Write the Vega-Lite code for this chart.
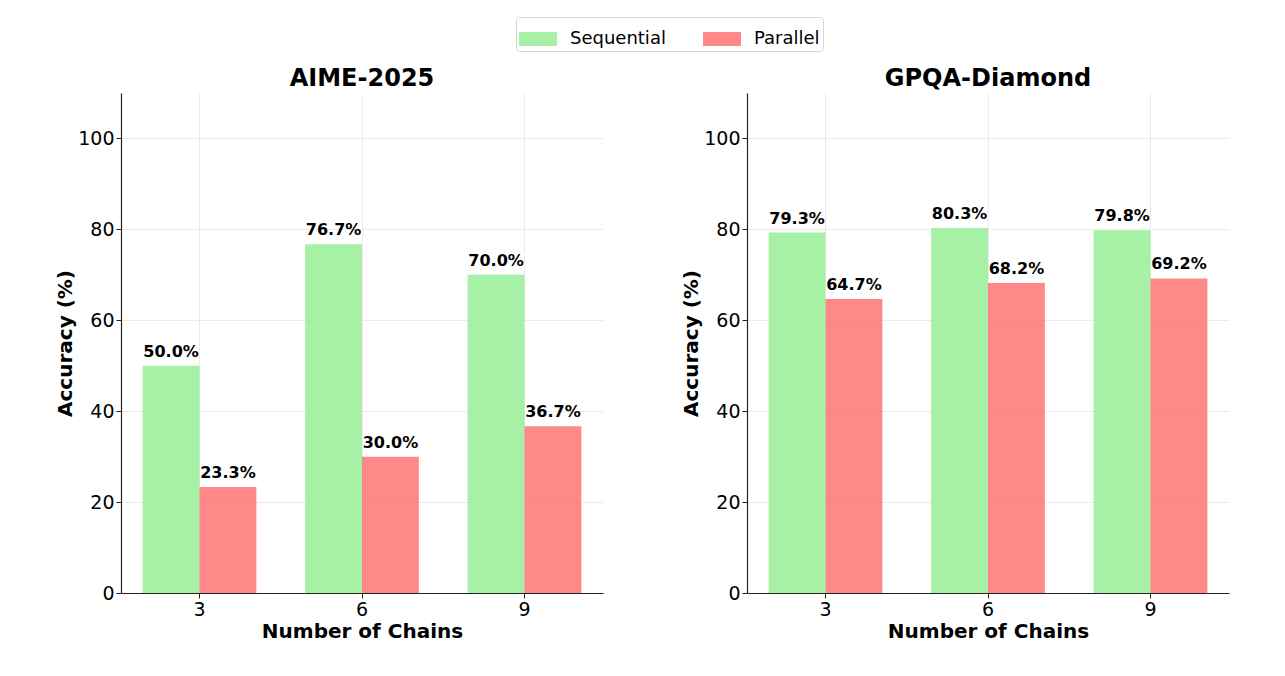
{
  "$schema": "https://vega.github.io/schema/vega-lite/v6.json",
  "background": "white",
  "padding": {"left": 55, "top": 16, "right": 20, "bottom": 10},
  "bounds": "flush",
  "spacing": 144,
  "data": {"values": [
    {"dataset": "AIME-2025", "chains": "3", "method": "Sequential", "acc": 50.0},
    {"dataset": "AIME-2025", "chains": "3", "method": "Parallel", "acc": 23.3},
    {"dataset": "AIME-2025", "chains": "6", "method": "Sequential", "acc": 76.7},
    {"dataset": "AIME-2025", "chains": "6", "method": "Parallel", "acc": 30.0},
    {"dataset": "AIME-2025", "chains": "9", "method": "Sequential", "acc": 70.0},
    {"dataset": "AIME-2025", "chains": "9", "method": "Parallel", "acc": 36.7},
    {"dataset": "GPQA-Diamond", "chains": "3", "method": "Sequential", "acc": 79.3},
    {"dataset": "GPQA-Diamond", "chains": "3", "method": "Parallel", "acc": 64.7},
    {"dataset": "GPQA-Diamond", "chains": "6", "method": "Sequential", "acc": 80.3},
    {"dataset": "GPQA-Diamond", "chains": "6", "method": "Parallel", "acc": 68.2},
    {"dataset": "GPQA-Diamond", "chains": "9", "method": "Sequential", "acc": 79.8},
    {"dataset": "GPQA-Diamond", "chains": "9", "method": "Parallel", "acc": 69.2}
  ]},
  "transform": [{"calculate": "format(datum.acc, '.1f') + '%'", "as": "label"}],
  "facet": {
    "column": {
      "field": "dataset", "type": "nominal", "sort": ["AIME-2025", "GPQA-Diamond"],
      "header": {"title": null, "labelFontSize": 24, "labelFontWeight": "bold", "labelColor": "black", "labelPadding": 2, "labelFont": "DejaVu Sans"}
    }
  },
  "resolve": {"axis": {"y": "independent", "x": "independent"}},
  "spec": {
    "width": 482,
    "height": 500,
    "encoding": {
      "x": {
        "field": "chains", "type": "nominal", "sort": ["3", "6", "9"],
        "scale": {"paddingInner": 0.3, "paddingOuter": 0.133},
        "axis": {"title": "Number of Chains", "labelAngle": 0, "bandPosition": 0.5}
      },
      "xOffset": {"field": "method", "type": "nominal", "sort": ["Sequential", "Parallel"], "scale": {"paddingInner": 0, "paddingOuter": 0}},
      "y": {
        "field": "acc", "type": "quantitative",
        "scale": {"domain": [0, 110], "nice": false},
        "axis": {"title": "Accuracy (%)", "values": [0, 20, 40, 60, 80, 100]}
      }
    },
    "layer": [
      {
        "mark": {"type": "bar", "opacity": 0.8},
        "encoding": {
          "color": {
            "field": "method", "type": "nominal",
            "scale": {"domain": ["Sequential", "Parallel"], "range": ["#90EE90", "#FF6B6B"]},
            "legend": {"title": null, "orient": "none", "direction": "horizontal", "legendX": 395, "legendY": -76}
          }
        }
      },
      {
        "mark": {"type": "text", "fontSize": 16, "fontWeight": "bold", "color": "black", "baseline": "alphabetic", "dy": -9},
        "encoding": {"text": {"field": "label"}}
      }
    ]
  },
  "config": {
    "font": "DejaVu Sans",
    "view": {"stroke": null},
    "axis": {
      "labelFontSize": 19, "labelColor": "black", "labelFont": "DejaVu Sans",
      "titleFontSize": 20, "titleFontWeight": "bold", "titleColor": "black", "titleFont": "DejaVu Sans",
      "domainColor": "#222222", "domainWidth": 1.2, "tickColor": "#222222", "tickSize": 5,
      "grid": true, "gridColor": "#e6e6e6", "gridWidth": 0.8,
      "labelPadding": 2
    },
    "axisY": {"titlePadding": 2},
    "axisX": {"titlePadding": 2},
    "legend": {
      "labelFontSize": 18, "labelColor": "black", "labelFont": "DejaVu Sans",
      "symbolType": "M-1,-0.37H1V0.37H-1Z", "symbolSize": 1444, "symbolOpacity": 0.8, "symbolStrokeWidth": 0,
      "strokeColor": "#d6d6d6", "cornerRadius": 3, "padding": 3, "columnPadding": 37, "labelOffset": 13
    }
  }
}
